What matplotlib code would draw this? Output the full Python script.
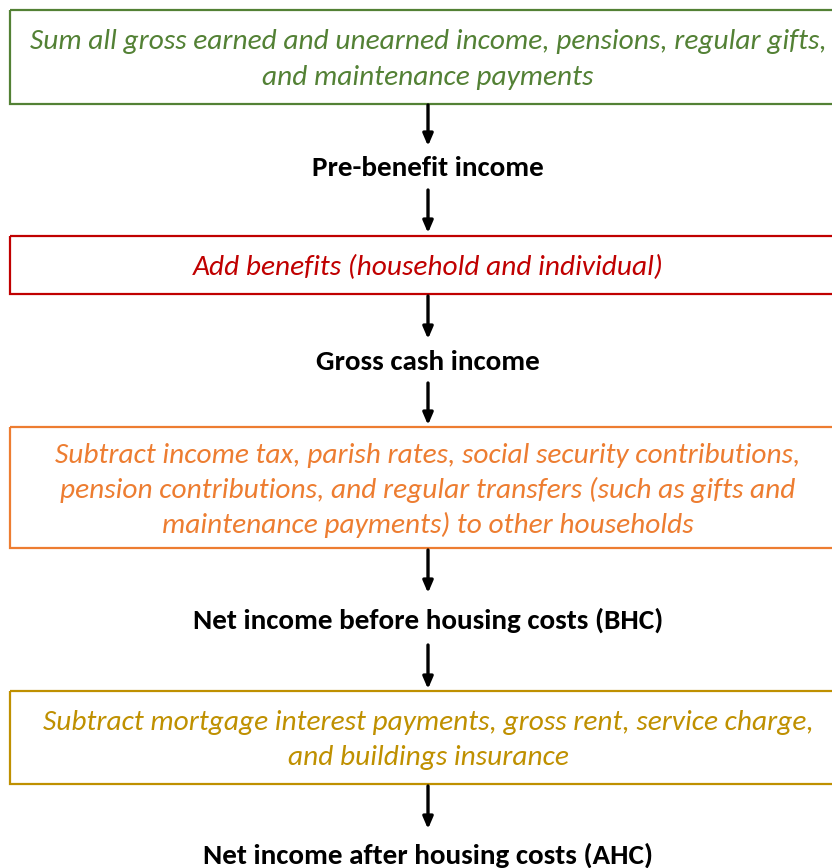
import matplotlib
matplotlib.use("Agg")
import matplotlib.pyplot as plt
from matplotlib.patches import Rectangle

plt.rcParams['font.family'] = ['Carlito', 'Lato', 'DejaVu Sans']

# Flowchart content
step_texts = [
    "Sum all gross earned and unearned income, pensions, regular gifts,\nand maintenance payments",
    "Add benefits (household and individual)",
    "Subtract income tax, parish rates, social security contributions,\npension contributions, and regular transfers (such as gifts and\nmaintenance payments) to other households",
    "Subtract mortgage interest payments, gross rent, service charge,\nand buildings insurance",
]
step_colors = ["#538135", "#C00000", "#ED7D31", "#BF9000"]
result_labels = [
    "Pre-benefit income",
    "Gross cash income",
    "Net income before housing costs (BHC)",
    "Net income after housing costs (AHC)",
]

W, H = 832, 868
fig = plt.figure(figsize=(W / 100, H / 100), dpi=100)
ax = fig.add_axes([0, 0, 1, 1])
ax.set_xlim(0, W)
ax.set_ylim(H, 0)
ax.axis('off')

cx = 428
# layout: (top, bottom) for boxes, y for labels
box_geom = [(10, 104), (236, 294), (427, 548), (691, 784)]
label_y = [168, 362, 620, 855]
line_h = 35
text_dy = 2.5

fs_box = 21.2
fs_lab = 21

for (top, bot), txt, col in zip(box_geom, step_texts, step_colors):
    ax.add_patch(Rectangle((10, top), 836, bot - top, fill=False, edgecolor=col,
                           linewidth=1.6, clip_on=True))
    lines = txt.split("\n")
    n = len(lines)
    mid = (top + bot) / 2 + text_dy
    for i, ln in enumerate(lines):
        y = mid + (i - (n - 1) / 2) * line_h
        ax.text(cx, y, ln, color=col, fontsize=fs_box, style='italic',
                ha='center', va='center')

for y, lab in zip(label_y, result_labels):
    ax.text(cx, y, lab, color='black', fontsize=fs_lab, fontweight='bold',
            ha='center', va='center')

# arrows: box bottom -> label, label -> next box
arrows = [(105, 146), (190, 233), (296, 339), (383, 425), (550, 593), (645, 689), (786, 829)]
for y0, y1 in arrows:
    ax.annotate("", xy=(cx, y1), xytext=(cx, y0),
                arrowprops=dict(arrowstyle="-|>,head_length=0.7,head_width=0.3",
                                color='black', lw=2.4, shrinkA=0, shrinkB=0))

fig.savefig("out.png", dpi=100)
